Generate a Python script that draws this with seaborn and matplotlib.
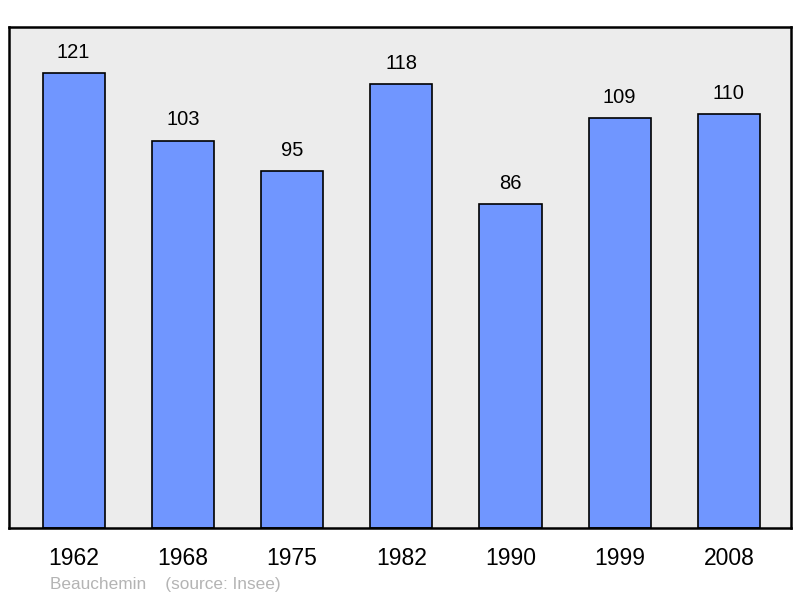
import seaborn as sns
import matplotlib.pyplot as plt
import pandas as pd

years = ["1962", "1968", "1975", "1982", "1990", "1999", "2008"]
population = [121, 103, 95, 118, 86, 109, 110]

sns.set_style("white")
plt.rcParams['font.family'] = ['Liberation Sans', 'DejaVu Sans']
plt.rcParams['text.color'] = 'black'
plt.rcParams['xtick.color'] = 'black'

df = pd.DataFrame({"year": years, "pop": population})

fig = plt.figure(figsize=(8, 5.98), dpi=100)
ax = fig.add_axes([0.011, 0.117, 0.978, 0.838])
ax.set_facecolor("#ececec")

sns.barplot(data=df, x="year", y="pop", color="#7096ff", saturation=1,
            width=0.57, edgecolor="black", linewidth=1.2, ax=ax)

ax.set_xlim(-0.594, 6.571)
ax.set_ylim(0, 133.2)

# value labels above each bar
for i, v in enumerate(population):
    ax.annotate(str(v), (i, v), xytext=(0, 8), textcoords="offset points",
                ha="center", va="bottom", fontsize=14.5, color="black")

ax.set_yticks([])
ax.set_xlabel("")
ax.set_ylabel("")
ax.tick_params(axis="x", length=0, pad=14, labelsize=16.5, labelcolor="black")
for s in ax.spines.values():
    s.set_visible(True)
    s.set_color("black")
    s.set_linewidth(1.8)

fig.text(0.0625, 0.01, "Beauchemin    (source: Insee)", color="#b4b4b4",
         fontsize=12.4, ha="left", va="bottom")

fig.savefig("out.png", dpi=100)
